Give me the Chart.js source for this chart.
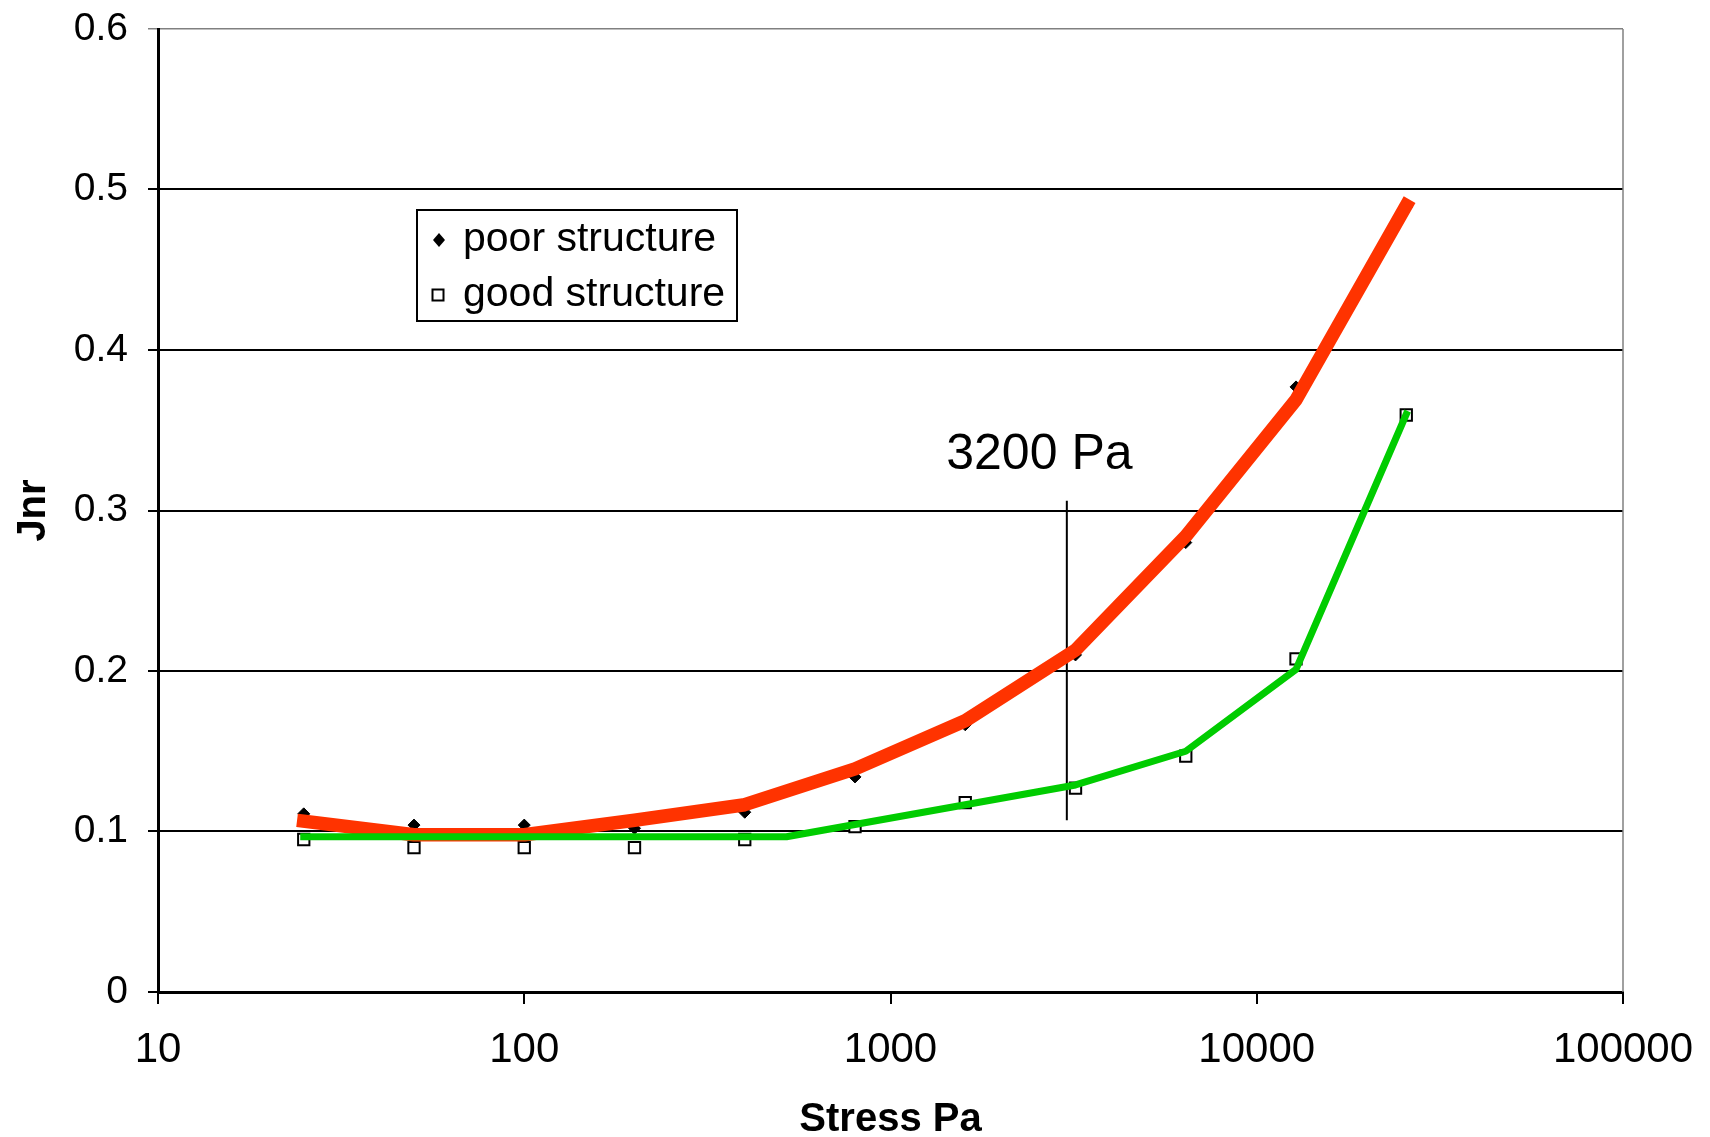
<!DOCTYPE html>
<html>
<head>
<meta charset="utf-8">
<script src="https://cdn.jsdelivr.net/npm/chart.js@4.4.1/dist/chart.umd.min.js"></script>
<style>
  html, body { margin: 0; padding: 0; background: #ffffff; }
  #wrap { width: 1710px; height: 1137px; }
</style>
</head>
<body>
<div id="wrap"><canvas id="c" width="1710" height="1137"></canvas></div>
<script>
// ---- data ----
const stress = [25, 50, 100, 200, 400, 800, 1600, 3200, 6400, 12800, 25600];
const poorJnr = [0.111, 0.104, 0.104, 0.102, 0.112, 0.134, 0.1665, 0.210, 0.280, 0.377, 0.489];
const goodJnr = [0.095, 0.090, 0.090, 0.090, 0.095, 0.103, 0.118, 0.127, 0.147, 0.2075, 0.3595];
const poorFitX = [25, 50, 100, 200, 400, 800, 1600, 3200, 6400, 12800, 25600];
const poorFitY = [0.1064, 0.098, 0.098, 0.107, 0.1167, 0.139, 0.169, 0.213, 0.284, 0.369, 0.490];
const goodFitX = [25, 520, 3200, 6400, 12800, 25600];
const goodFitY = [0.0967, 0.0967, 0.129, 0.150, 0.201, 0.360];
const markerLineX = [3030, 3030];
const markerLineY = [0.107, 0.306];
const annotationText = '3200 Pa';
const annotationAt = { x: 2550, y: 0.3256 };
const xTickValues = [10, 100, 1000, 10000, 100000];
const yTickValues = [0, 0.1, 0.2, 0.3, 0.4, 0.5, 0.6];
const seriesLabels = ['poor structure', 'good structure'];
const xTitle = 'Stress Pa';
const yTitle = 'Jnr';

const pts = (xs, ys) => xs.map((x, i) => ({ x: x, y: ys[i] }));
const FONT = "'Liberation Sans', Arial, sans-serif";

const chartDecor = {
  id: 'chartDecor',
  afterDraw(chart) {
    const { ctx, chartArea: a, scales } = chart;
    ctx.save();
    // plot area right border
    ctx.strokeStyle = '#808080';
    ctx.lineWidth = 1.5;
    ctx.beginPath();
    ctx.moveTo(a.right, a.top);
    ctx.lineTo(a.right, a.bottom);
    ctx.stroke();
    // annotation text
    ctx.fillStyle = '#000';
    ctx.font = '50px ' + FONT;
    ctx.textAlign = 'center';
    ctx.textBaseline = 'alphabetic';
    ctx.fillText(annotationText, scales.x.getPixelForValue(annotationAt.x), scales.y.getPixelForValue(annotationAt.y));
    // legend
    const bx = a.left + 259, by = a.top + 181, bw = 320, bh = 111;
    ctx.fillStyle = '#fff';
    ctx.fillRect(bx, by, bw, bh);
    ctx.strokeStyle = '#000';
    ctx.lineWidth = 2;
    ctx.strokeRect(bx, by, bw, bh);
    ctx.font = '41px ' + FONT;
    ctx.textAlign = 'left';
    ctx.fillStyle = '#000';
    // diamond
    const dx = bx + 22, dy = by + 30;
    ctx.beginPath();
    ctx.moveTo(dx, dy - 7); ctx.lineTo(dx + 6, dy); ctx.lineTo(dx, dy + 7); ctx.lineTo(dx - 6, dy); ctx.closePath();
    ctx.fill();
    ctx.fillText(seriesLabels[0], bx + 46, by + 41);
    // square
    const sx = bx + 21, sy = by + 85;
    ctx.fillStyle = '#fff';
    ctx.fillRect(sx - 5.5, sy - 5.5, 11, 11);
    ctx.lineWidth = 2;
    ctx.strokeRect(sx - 5.5, sy - 5.5, 11, 11);
    ctx.fillStyle = '#000';
    ctx.fillText(seriesLabels[1], bx + 46, by + 96);
    ctx.restore();
  }
};

new Chart(document.getElementById('c'), {
  type: 'scatter',
  data: {
    datasets: [
      {
        label: 'good fit', data: pts(goodFitX, goodFitY), showLine: true,
        borderColor: '#00cc00', borderWidth: 7, pointRadius: 0, order: 0,
        borderJoinStyle: 'round', borderCapStyle: 'square'
      },
      {
        label: 'poor fit', data: pts(poorFitX, poorFitY), showLine: true,
        borderColor: '#ff3300', borderWidth: 13.5, pointRadius: 0, order: 1,
        borderJoinStyle: 'round', borderCapStyle: 'square'
      },
      {
        label: 'marker', data: pts(markerLineX, markerLineY), showLine: true,
        borderColor: '#000', borderWidth: 2, pointRadius: 0, order: 2
      },
      {
        label: seriesLabels[0], data: pts(stress, poorJnr),
        pointStyle: 'rectRot', pointRadius: 6, backgroundColor: '#000', borderColor: '#000', borderWidth: 1, order: 3
      },
      {
        label: seriesLabels[1], data: pts(stress, goodJnr),
        pointStyle: 'rect', pointRadius: 8, backgroundColor: '#fff', borderColor: '#000', borderWidth: 2, order: 4
      }
    ]
  },
  options: {
    responsive: false,
    animation: false,
    devicePixelRatio: 1,
    layout: { padding: { top: 29, right: 87, left: 0, bottom: 0 } },
    plugins: { legend: { display: false }, tooltip: { enabled: false } },
    scales: {
      x: {
        type: 'logarithmic', min: 10, max: 100000,
        afterBuildTicks: s => { s.ticks = xTickValues.map(v => ({ value: v, major: true })); },
        afterFit: s => { s.height = 145; s.paddingLeft = 0; s.paddingRight = 0; },
        ticks: {
          callback: v => String(v), color: '#000', padding: 21, maxRotation: 0, autoSkip: false,
          font: { family: FONT, size: 42 }
        },
        grid: { drawOnChartArea: false, drawTicks: true, tickLength: 12, color: '#000', lineWidth: 2 },
        border: { display: true, color: '#000', width: 3 },
        title: {
          display: true, text: xTitle, color: '#000',
          font: { family: FONT, size: 40, weight: 'bold', lineHeight: 0.85 },
          padding: { top: 0, bottom: 0 }
        }
      },
      y: {
        min: 0, max: 0.6,
        afterBuildTicks: s => { s.ticks = yTickValues.map(v => ({ value: v })); },
        afterFit: s => { s.width = 158; s.paddingTop = 0; s.paddingBottom = 0; },
        ticks: {
          callback: v => String(Math.round(v * 10) / 10), color: '#000', padding: 20,
          font: { family: FONT, size: 39 }
        },
        grid: {
          drawOnChartArea: true, drawTicks: true, tickLength: 10,
          color: c => (c.tick && c.tick.value >= 0.6 ? '#808080' : '#000'),
          lineWidth: c => (c.tick && c.tick.value >= 0.6 ? 1.5 : 2)
        },
        border: { display: true, color: '#000', width: 3 },
        title: {
          display: true, text: yTitle, color: '#000',
          font: { family: FONT, size: 40, weight: 'bold', lineHeight: 1.2 },
          padding: { top: 10, bottom: 0 }
        }
      }
    }
  },
  plugins: [chartDecor]
});
</script>
</body>
</html>
